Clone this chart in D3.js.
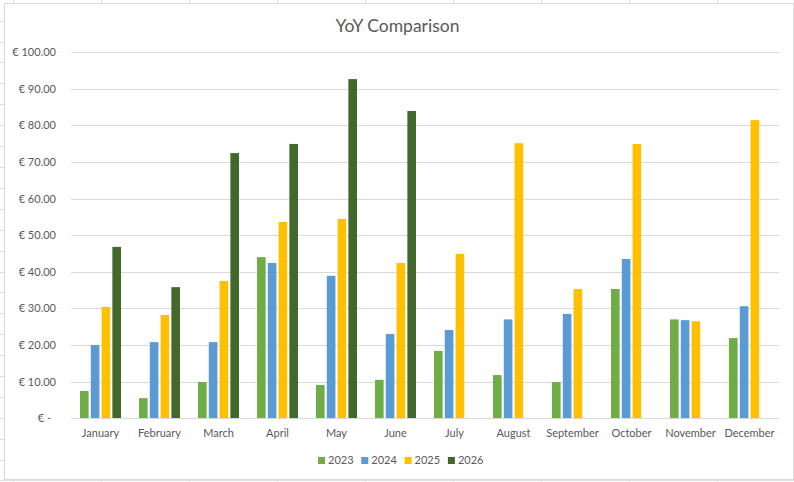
<!DOCTYPE html>
<html>
<head>
<meta charset="utf-8">
<script src="https://cdn.jsdelivr.net/npm/d3@7"></script>
<style>
  body { margin: 0; background: #fff; }
  svg { display: block; font-family: Lato, "Open Sans", sans-serif; }
</style>
</head>
<body>
<script>
// Dados do gráfico
const months = ['January', 'February', 'March', 'April', 'May', 'June',
  'July', 'August', 'September', 'October', 'November', 'December'];
const years = ['2023', '2024', '2025', '2026'];
const values2023 = [7.45, 5.5, 9.9, 44.0, 9.1, 10.5, 18.4, 11.8, 9.9, 35.3, 27.0, 21.9];
const values2024 = [20.0, 20.8, 20.8, 42.4, 38.9, 23.0, 24.1, 27.0, 28.5, 43.5, 26.8, 30.6];
const values2025 = [30.4, 28.2, 37.5, 53.6, 54.4, 42.4, 44.9, 75.1, 35.3, 74.9, 26.5, 81.4];
const values2026 = [46.8, 35.8, 72.4, 74.9, 92.6, 83.9, null, null, null, null, null, null];
const yTicks = [0, 10, 20, 30, 40, 50, 60, 70, 80, 90, 100];
const colors = ['#70ad47', '#5b9bd5', '#ffc000', '#43682b'];

const series = [values2023, values2024, values2025, values2026];

const svgWidth = 794, svgHeight = 482;
const plot = { left: 71, right: 779, top: 52, bottom: 418.3 };

const svg = d3.select('body').append('svg')
  .attr('width', svgWidth)
  .attr('height', svgHeight);

// Grade da planilha atrás do gráfico
const sheet = svg.append('g').attr('stroke', '#e1e1e1').attr('stroke-width', 1);
for (let x = 13; x < svgWidth; x += 88) {
  sheet.append('line').attr('x1', x + 0.5).attr('x2', x + 0.5).attr('y1', 0).attr('y2', svgHeight);
}
for (let y = 20.7; y < svgHeight; y += 20.9) {
  sheet.append('line').attr('x1', 0).attr('x2', svgWidth).attr('y1', Math.round(y) + 0.5).attr('y2', Math.round(y) + 0.5);
}

// Área do gráfico
svg.append('rect')
  .attr('x', 4.5).attr('y', 3.5)
  .attr('width', 789).attr('height', 476)
  .attr('fill', '#fff')
  .attr('stroke', '#d9d9d9');

// Escalas
const x0 = d3.scaleBand()
  .domain(months)
  .range([plot.left, plot.right])
  .paddingInner(0.305)
  .paddingOuter(0.1525);

const x1 = d3.scaleBand()
  .domain(years)
  .range([0, x0.bandwidth()])
  .paddingInner(0.2);

const y = d3.scaleLinear()
  .domain([0, 100])
  .range([plot.bottom, plot.top]);

// Linhas de grade
svg.append('g')
  .selectAll('line')
  .data(yTicks)
  .enter()
  .append('line')
  .attr('x1', plot.left)
  .attr('x2', plot.right)
  .attr('y1', d => Math.round(y(d)) + 0.5)
  .attr('y2', d => Math.round(y(d)) + 0.5)
  .attr('stroke', '#d9d9d9');

// Eixo Y
const yAxis = svg.append('g')
  .attr('transform', `translate(${plot.left},0)`)
  .call(d3.axisLeft(y)
    .tickValues(yTicks)
    .tickSize(0)
    .tickPadding(15)
    .tickFormat(d => d === 0 ? '€ -' : '€ ' + d3.format('.2f')(d)));
yAxis.select('.domain').remove();
yAxis.selectAll('text')
  .attr('fill', '#595959')
  .attr('font-size', 11)
  .attr('font-family', 'Lato, sans-serif')
  .attr('dx', d => d === 0 ? -5 : 0);

// Eixo X
const xAxis = svg.append('g')
  .attr('transform', `translate(0,${plot.bottom})`)
  .call(d3.axisBottom(x0).tickSize(0).tickPadding(0));
xAxis.select('.domain').remove();
xAxis.selectAll('text')
  .attr('fill', '#595959')
  .attr('font-size', 11)
  .attr('font-family', 'Lato, sans-serif')
  .attr('y', 18.5)
  .attr('dy', 0);

// Barras
const groups = svg.append('g')
  .selectAll('g')
  .data(months)
  .enter()
  .append('g')
  .attr('transform', d => `translate(${x0(d)},0)`);

groups.selectAll('rect')
  .data((m, i) => years.map((yr, s) => ({ yr, s, v: series[s][i] })).filter(d => d.v !== null))
  .enter()
  .append('rect')
  .attr('x', d => x1(d.yr))
  .attr('width', x1.bandwidth())
  .attr('y', d => y(d.v))
  .attr('height', d => y(0) - y(d.v))
  .attr('fill', d => colors[d.s]);

// Linha base
svg.append('line')
  .attr('x1', plot.left).attr('x2', plot.right)
  .attr('y1', Math.round(y(0)) + 0.5).attr('y2', Math.round(y(0)) + 0.5)
  .attr('stroke', '#d9d9d9');

// Título
svg.append('text')
  .attr('x', 397.5)
  .attr('y', 31.5)
  .attr('text-anchor', 'middle')
  .attr('fill', '#595959')
  .attr('font-size', 17.5)
  .text('YoY Comparison');

// Legenda
const legend = svg.append('g')
  .selectAll('g')
  .data(years)
  .enter()
  .append('g')
  .attr('transform', (d, i) => `translate(${318 + i * 43.3},457)`);
legend.append('rect')
  .attr('width', 7).attr('height', 7)
  .attr('fill', (d, i) => colors[i]);
legend.append('text')
  .attr('x', 10)
  .attr('y', 7)
  .attr('fill', '#595959')
  .attr('font-size', 11)
  .text(d => d);
</script>
</body>
</html>
